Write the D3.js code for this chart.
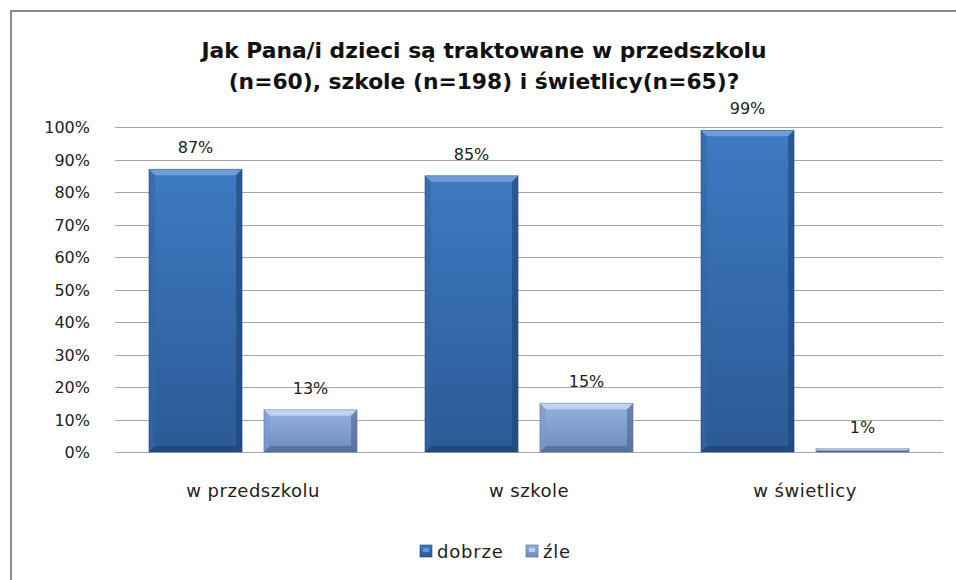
<!DOCTYPE html>
<html>
<head>
<meta charset="utf-8">
<script src="https://cdn.jsdelivr.net/npm/d3@7"></script>
<style>
  body { margin: 0; background: #fff; }
  svg { display: block; }
</style>
</head>
<body>
<div id="chart"></div>
<script>
const categories = ["w przedszkolu", "w szkole", "w świetlicy"];
const seriesNames = ["dobrze", "źle"];
const dobrze = [87, 85, 99];
const zle = [13, 15, 1];
const yTicks = [0, 10, 20, 30, 40, 50, 60, 70, 80, 90, 100];
const titleLines = [
  "Jak Pana/i dzieci są traktowane w przedszkolu",
  "(n=60), szkole (n=198) i świetlicy(n=65)?"
];

const W = 956, H = 580;
const plot = { left: 115, right: 943, top: 127, bottom: 452 };
const font = "'DejaVu Sans', sans-serif";

const data = categories.map((c, i) => ({
  cat: c,
  values: [
    { key: "dobrze", v: dobrze[i] },
    { key: "źle", v: zle[i] }
  ]
}));

const svg = d3.select("#chart").append("svg")
  .attr("width", W)
  .attr("height", H);

const defs = svg.append("defs");
const palettes = {
  "dobrze": { top: "#3e7ac2", bottom: "#2b5a96", light: "#77a3dc", dark: "#1e4272", side: "#33679f" },
  "źle": { top: "#95b3e2", bottom: "#6d8bbd", light: "#c8dbf5", dark: "#4d6690", side: "#7d9ac9" }
};
seriesNames.forEach((s, i) => {
  const g = defs.append("linearGradient")
    .attr("id", "grad" + i)
    .attr("x1", 0).attr("y1", 0).attr("x2", 0).attr("y2", 1);
  g.append("stop").attr("offset", "0%").attr("stop-color", palettes[s].top);
  g.append("stop").attr("offset", "100%").attr("stop-color", palettes[s].bottom);
});

// chart frame
svg.append("path")
  .attr("d", `M11,${H + 5} L11,11 L${W + 5},11`)
  .attr("fill", "none")
  .attr("stroke", "#8c8c8c")
  .attr("stroke-width", 2);

// title
svg.append("g").selectAll("text")
  .data(titleLines)
  .join("text")
  .attr("x", 484)
  .attr("y", (d, i) => 58 + i * 31)
  .attr("text-anchor", "middle")
  .attr("font-family", font)
  .attr("font-weight", "bold")
  .attr("font-size", 21.8)
  .attr("fill", "#111")
  .text(d => d);

const x0 = d3.scaleBand()
  .domain(categories)
  .range([plot.left, plot.right])
  .paddingInner(0.246)
  .paddingOuter(0.123);

const x1 = d3.scaleBand()
  .domain(seriesNames)
  .range([0, x0.bandwidth()])
  .paddingInner(0.19);

const y = d3.scaleLinear()
  .domain([0, 100])
  .range([plot.bottom, plot.top]);

// gridlines
svg.append("g").selectAll("line")
  .data(yTicks)
  .join("line")
  .attr("x1", plot.left)
  .attr("x2", plot.right)
  .attr("y1", d => Math.round(y(d)) + 0.5)
  .attr("y2", d => Math.round(y(d)) + 0.5)
  .attr("stroke", "#a6a6a6")
  .attr("stroke-width", 1.2);

// y labels
svg.append("g").selectAll("text")
  .data(yTicks)
  .join("text")
  .attr("x", 90)
  .attr("y", d => y(d) + 6)
  .attr("text-anchor", "end")
  .attr("font-family", font)
  .attr("font-size", 16)
  .attr("fill", "#222")
  .text(d => d + "%");

// bars
const groups = svg.append("g").selectAll("g")
  .data(data)
  .join("g")
  .attr("transform", d => `translate(${x0(d.cat)},0)`);

const bars = groups.selectAll("g.bar")
  .data(d => d.values)
  .join("g")
  .attr("class", "bar");

const bev = 6;
bars.each(function(d) {
  const g = d3.select(this);
  const bx = x1(d.key), bw = x1.bandwidth();
  const by = y(d.v), bh = y(0) - y(d.v);
  const p = palettes[d.key];
  const b = Math.min(bev, bh / 2);
  g.append("rect")
    .attr("x", bx).attr("y", by)
    .attr("width", bw).attr("height", bh)
    .attr("fill", `url(#grad${seriesNames.indexOf(d.key)})`);
  if (bh > 3) {
    g.append("path")
      .attr("d", `M${bx},${by} L${bx + bw},${by} L${bx + bw - b},${by + b} L${bx + b},${by + b} Z`)
      .attr("fill", p.light).attr("opacity", 0.85);
    g.append("path")
      .attr("d", `M${bx},${by + bh} L${bx + bw},${by + bh} L${bx + bw - b},${by + bh - b} L${bx + b},${by + bh - b} Z`)
      .attr("fill", p.dark).attr("opacity", 0.7);
    g.append("path")
      .attr("d", `M${bx},${by} L${bx + b},${by + b} L${bx + b},${by + bh - b} L${bx},${by + bh} Z`)
      .attr("fill", p.side).attr("opacity", 0.6);
    g.append("path")
      .attr("d", `M${bx + bw},${by} L${bx + bw - b},${by + b} L${bx + bw - b},${by + bh - b} L${bx + bw},${by + bh} Z`)
      .attr("fill", p.dark).attr("opacity", 0.6);
  }
  g.append("rect")
    .attr("x", bx).attr("y", by)
    .attr("width", bw).attr("height", bh)
    .attr("fill", "none")
    .attr("stroke", p.dark)
    .attr("stroke-opacity", 0.5)
    .attr("stroke-width", 0.8);
  g.append("text")
    .attr("x", bx + bw / 2)
    .attr("y", by - 16)
    .attr("text-anchor", "middle")
    .attr("font-family", font)
    .attr("font-size", 16)
    .attr("fill", "#222")
    .text(d.v + "%");
});

// x labels
svg.append("g").selectAll("text")
  .data(categories)
  .join("text")
  .attr("x", d => x0(d) + x0.bandwidth() / 2)
  .attr("y", 497)
  .attr("text-anchor", "middle")
  .attr("font-family", font)
  .attr("font-size", 18)
  .attr("letter-spacing", 0.5)
  .attr("fill", "#222")
  .text(d => d);

// legend
const legendItems = [
  { key: "dobrze", x: 420, tx: 437 },
  { key: "źle", x: 526, tx: 543 }
];
const leg = svg.append("g").selectAll("g")
  .data(legendItems)
  .join("g");
leg.append("rect")
  .attr("x", d => d.x).attr("y", 545)
  .attr("width", 12).attr("height", 12)
  .attr("fill", (d, i) => `url(#grad${i})`)
  .attr("stroke", d => palettes[d.key].dark)
  .attr("stroke-opacity", 0.6);
leg.append("rect")
  .attr("x", d => d.x + 3).attr("y", 548)
  .attr("width", 6).attr("height", 4)
  .attr("fill", d => palettes[d.key].light)
  .attr("opacity", 0.8);
leg.append("text")
  .attr("x", d => d.tx)
  .attr("y", 558)
  .attr("font-family", font)
  .attr("font-size", 18)
  .attr("letter-spacing", 0.8)
  .attr("fill", "#222")
  .text(d => d.key);
</script>
</body>
</html>
